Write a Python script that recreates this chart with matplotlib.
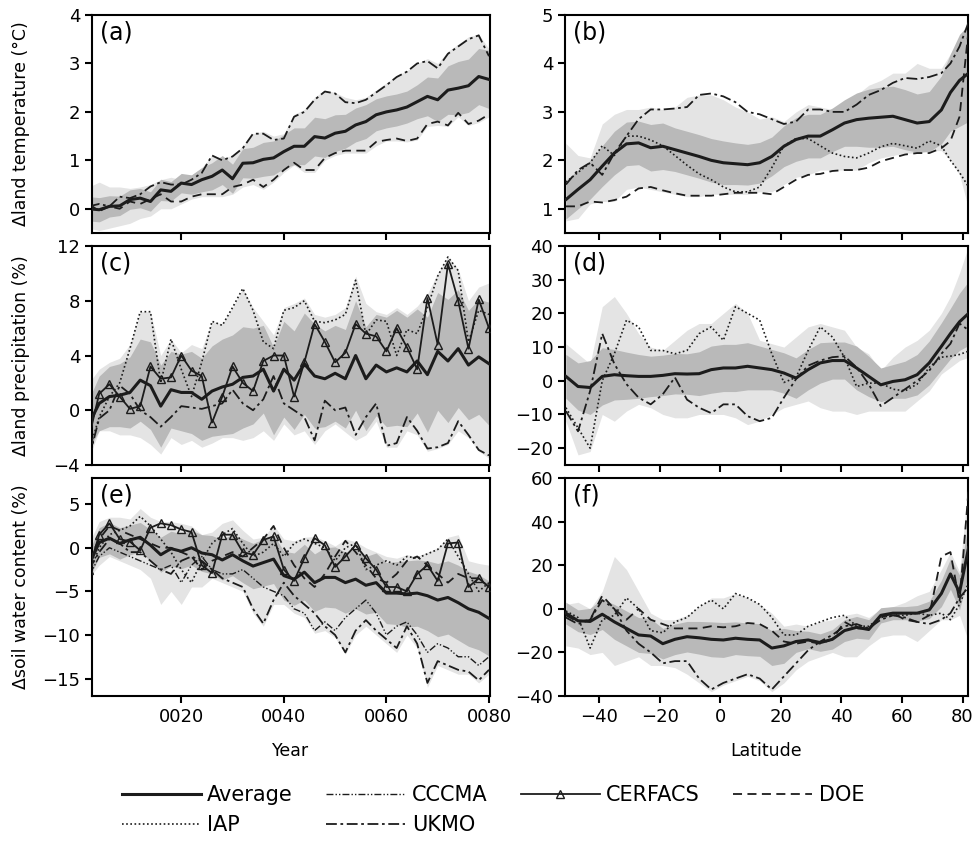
import numpy as np
import matplotlib
matplotlib.use('Agg')
import matplotlib.pyplot as plt
from matplotlib.lines import Line2D

# ---- data: time series (every 2nd model year) ----
yrs = np.arange(2, 81, 2)
year_ticks = [20, 40, 60, 80]
year_labels = ['0020', '0040', '0060', '0080']

a_avg = [0.0, -0.02, 0.05, 0.06, 0.19, 0.22, 0.15, 0.39, 0.36, 0.53,
         0.5, 0.6, 0.67, 0.8, 0.62, 0.94, 0.95, 1.02, 1.05, 1.18,
         1.29, 1.29, 1.49, 1.46, 1.56, 1.6, 1.73, 1.8, 1.94, 2.0,
         2.04, 2.1, 2.21, 2.32, 2.25, 2.45, 2.49, 2.54, 2.73, 2.67]
a_sd = [0.25, 0.25, 0.22, 0.2, 0.2, 0.2, 0.2, 0.22, 0.2, 0.2,
        0.2, 0.25, 0.28, 0.3, 0.3, 0.3, 0.32, 0.35, 0.35, 0.35,
        0.38, 0.38, 0.4, 0.4, 0.38, 0.35, 0.35, 0.35, 0.33, 0.33,
        0.33, 0.33, 0.35, 0.4, 0.45, 0.5, 0.55, 0.55, 0.58, 0.6]
a_lo = [-0.4, -0.45, -0.4, -0.35, -0.3, -0.2, -0.15, 0.0, 0.0, 0.1,
        0.2, 0.25, 0.25, 0.25, 0.3, 0.45, 0.5, 0.4, 0.55, 0.75,
        0.9, 0.75, 0.75, 1.0, 1.1, 1.15, 1.15, 1.15, 1.3, 1.4,
        1.4, 1.38, 1.42, 1.7, 1.72, 1.7, 1.9, 1.72, 1.78, 1.9]
a_hi = [0.45, 0.55, 0.45, 0.45, 0.42, 0.45, 0.5, 0.6, 0.65, 0.6,
        0.7, 0.85, 1.1, 1.05, 1.1, 1.3, 1.55, 1.6, 1.5, 1.55,
        1.95, 2.05, 2.3, 2.45, 2.4, 2.3, 2.25, 2.3, 2.45, 2.6,
        2.75, 2.85, 3.0, 3.1, 3.0, 3.25, 3.4, 3.55, 3.6, 3.3]
a_ukmo = [0.05, 0.1, 0.05, 0.25, 0.22, 0.3, 0.46, 0.55, 0.5, 0.5,
          0.6, 0.74, 1.1, 1.0, 1.08, 1.25, 1.55, 1.55, 1.42, 1.45,
          1.9, 2.0, 2.25, 2.42, 2.38, 2.2, 2.18, 2.25, 2.4, 2.55,
          2.72, 2.83, 3.0, 3.05, 2.9, 3.2, 3.35, 3.5, 3.58, 3.15]
a_doe = [0.1, -0.05, 0.05, 0.0, 0.15, 0.1, 0.2, 0.3, 0.15, 0.15,
         0.25, 0.3, 0.3, 0.3, 0.45, 0.5, 0.6, 0.45, 0.6, 0.8,
         0.95, 0.8, 0.8, 1.05, 1.15, 1.2, 1.2, 1.2, 1.38, 1.42,
         1.45, 1.4, 1.45, 1.75, 1.8, 1.72, 1.98, 1.75, 1.82, 1.95]

c_avg = [-1.0, 0.5, 1.0, 1.1, 1.3, 2.2, 1.8, 0.3, 1.5, 1.3,
         1.3, 0.8, 1.4, 1.7, 1.9, 2.4, 2.5, 3.0, 1.4, 3.0,
         2.2, 3.4, 2.5, 2.3, 2.7, 2.3, 4.0, 2.3, 3.3, 2.8,
         3.1, 2.8, 3.6, 2.6, 4.3, 3.6, 4.5, 3.3, 3.9, 3.4]
c_sd = [1.8, 2.0, 2.2, 2.3, 2.6, 3.0, 3.2, 3.0, 2.8, 2.8,
        3.0, 3.0, 3.3, 3.5, 3.6, 3.7, 3.5, 3.2, 3.2, 3.5,
        3.6, 3.7, 3.8, 3.5, 3.5, 3.6, 4.0, 3.8, 3.7, 4.0,
        4.2, 4.0, 3.8, 4.2, 4.3, 4.5, 4.3, 4.0, 4.2, 4.5]
c_lo = [-3.5, -1.5, -1.5, -1.8, -1.8, -2.0, -2.5, -3.2, -2.0, -2.5,
        -2.2, -2.7, -2.4, -2.0, -2.0, -2.2, -2.0, -1.5, -2.2, -1.0,
        -1.8, -1.5, -2.5, -1.5, -1.0, -1.6, -2.2, -1.8, -0.8, -2.7,
        -2.7, -1.5, -1.8, -3.0, -2.8, -2.5, -1.5, -2.0, -3.0, -3.5]
c_hi = [2.0, 3.0, 3.5, 3.8, 4.8, 7.2, 7.2, 4.0, 5.2, 4.2,
        4.8, 4.5, 6.5, 6.3, 7.5, 8.9, 7.5, 6.5, 5.5, 7.5,
        7.8, 8.2, 7.0, 6.8, 7.0, 7.5, 9.8, 7.8, 7.2, 7.0,
        7.5, 7.0, 7.6, 8.5, 10.0, 11.2, 10.3, 8.0, 9.0, 9.3]
c_cerfacs = [-2.0, 1.2, 1.9, 1.0, 0.1, 0.3, 3.2, 2.3, 2.4, 4.0,
             2.9, 2.5, -0.9, 1.0, 3.2, 2.0, 1.4, 3.6, 4.0, 4.0,
             1.0, 3.5, 6.3, 5.0, 3.5, 4.2, 6.3, 5.6, 5.4, 4.3,
             6.0, 4.6, 3.0, 8.2, 4.8, 10.7, 8.0, 4.5, 8.1, 6.0]
c_iap = [-3.0, -0.5, 1.0, 2.0, 4.5, 7.2, 7.2, 2.0, 5.2, 3.0,
         1.0, 3.5, 6.5, 6.2, 7.5, 8.9, 7.3, 5.0, 4.5, 7.3,
         7.5, 8.0, 6.5, 6.4, 6.6, 7.0, 9.5, 5.5, 6.6, 6.5,
         4.0, 5.9, 5.6, 7.5, 9.8, 11.2, 10.2, 5.0, 7.3, 7.0]
c_ukmo = [-3.5, -0.6, 0.0, 1.8, 1.2, 0.0, -0.5, -1.2, -0.5, 0.3,
          0.2, 0.1, 0.3, 0.5, 1.5, 0.5, 0.0, 0.8, 2.5, 0.5,
          0.0, -0.5, -2.2, 0.7, 0.0, 0.2, -1.8, -0.5, 0.5, -2.6,
          -2.4, -0.5, -1.5, -2.8, -2.7, -2.4, -0.8, -1.8, -2.9, -3.3]

e_avg = [-2.0, 0.6, 1.1, 0.5, 0.9, 1.2, 0.3, -0.8, -0.1, -0.4,
         0.0, -0.6, -0.8, -1.4, -0.8, -1.5, -2.1, -1.7, -1.3, -3.2,
         -3.6, -2.8, -4.0, -3.4, -3.4, -4.0, -3.6, -4.3, -4.0, -5.2,
         -5.2, -5.3, -5.2, -5.5, -6.0, -5.7, -6.3, -7.0, -7.4, -8.1]
e_sd = [1.5, 1.7, 1.8, 1.8, 1.7, 1.7, 1.8, 2.0, 2.0, 2.0,
        2.0, 2.1, 2.2, 2.3, 2.4, 2.5, 2.6, 2.7, 2.8, 2.8,
        3.0, 3.2, 3.3, 3.4, 3.5, 3.5, 3.4, 3.3, 3.4, 3.5,
        3.6, 3.8, 3.8, 4.0, 4.2, 4.2, 4.3, 4.3, 4.3, 4.3]
e_lo = [-3.5, -2.0, -1.0, -1.5, -2.0, -2.5, -3.5, -6.5, -5.0, -6.5,
        -4.5, -4.5, -3.5, -4.0, -4.5, -5.0, -7.5, -9.0, -6.5, -6.5,
        -7.5, -8.0, -9.8, -9.5, -10.3, -12.2, -10.0, -9.0, -10.0, -11.0,
        -12.0, -10.0, -11.5, -16.0, -13.5, -14.0, -14.5, -14.5, -15.5, -14.5]
e_hi = [0.5, 3.0, 3.5, 3.5, 3.3, 4.5, 3.5, 3.0, 3.0, 2.8,
        2.5, 1.5, 1.8, 2.8, 3.2, 2.0, 1.0, 1.2, 2.6, 1.0,
        0.8, 1.2, 1.3, 0.8, 0.2, 1.0, 0.7, 0.0, -0.5, -1.0,
        -1.2, -0.8, -1.0, -0.5, 0.0, 1.2, 1.5, -1.5, -1.8, -2.0]
e_cerfacs = [-2.5, 1.5, 2.8, 1.0, 0.7, -0.3, 2.3, 2.8, 2.6, 2.1,
             1.8, -2.0, -2.9, 1.5, 1.5, -0.5, -0.8, 0.9, 1.3, -2.5,
             -3.8, -1.2, 1.1, 0.3, -2.2, -1.0, 0.3, -1.2, -2.5, -4.5,
             -4.5, -5.0, -3.0, -2.0, -3.8, 0.5, 0.6, -4.5, -3.5, -4.5]
e_iap = [-3.0, 0.0, 1.5, 2.0, 2.5, 3.6, 2.5, 1.0, -0.5, -2.5,
         -4.0, -1.5, 0.5, 1.5, 2.2, 0.5, -1.0, -0.5, 0.5, -1.0,
         0.5, 1.0, 0.5, 0.0, -1.5, 0.0, 0.5, -2.5, -2.0, -1.5,
         -2.0, -1.0, -1.2, -0.7, -0.2, 1.0, -1.0, -3.0, -5.0, -4.0]
e_doe = [-1.5, 1.0, 2.5, 2.0, 1.5, 1.0, 0.5, 0.0, 0.0, -0.5,
         -1.0, -2.5, -1.5, -1.0, -0.5, -1.0, 0.0, 1.0, 2.5, 0.0,
         -2.0, -3.5, -4.5, -3.0, -1.0, 0.8, -0.5, -2.0, -3.5, -4.0,
         -3.0, -1.5, -1.0, -2.0, -3.0, -4.0, -3.0, -3.5, -3.5, -4.5]
e_ukmo = [-2.5, -0.5, 1.0, 0.5, -0.5, -0.5, -1.5, -2.5, -3.0, -1.5,
          -1.0, -1.5, -2.5, -3.5, -4.0, -4.5, -7.0, -8.7, -6.0, -4.0,
          -5.5, -6.5, -7.5, -9.0, -10.0, -12.0, -9.5, -8.3, -9.5, -10.5,
          -11.5, -9.0, -11.0, -15.5, -13.0, -13.5, -14.0, -14.2, -15.2, -14.0]
e_cccma = [-3.3, -1.0, 0.0, -0.5, -1.0, -1.5, -2.0, -2.5, -2.0, -4.0,
           -2.0, -1.0, -2.5, -3.0, -3.0, -2.5, -3.5, -4.5, -5.0, -5.5,
           -7.0, -7.5, -9.5, -8.5, -9.5, -8.0, -7.0, -6.0, -7.5, -10.0,
           -9.0, -8.5, -10.0, -12.0, -11.0, -11.5, -12.5, -12.5, -13.5, -12.5]

# ---- data: zonal means ----
lats = [-51, -47, -43, -39, -35, -31, -27, -23, -19, -15, -11, -7, -3, 1, 5, 9, 13,
        17, 21, 25, 29, 33, 37, 41, 45, 49, 53, 57, 61, 65, 69, 73, 76, 79, 82]
lat_ticks = [-40, -20, 0, 20, 40, 60, 80]

b_avg = [1.19, 1.4, 1.6, 1.88, 2.15, 2.34, 2.36, 2.26, 2.29, 2.22, 2.15, 2.08, 2.0, 1.95, 1.93, 1.91, 1.95,
         2.08, 2.29, 2.43, 2.5, 2.5, 2.63, 2.77, 2.84, 2.87, 2.89, 2.91, 2.84, 2.77, 2.8, 3.04, 3.4, 3.65, 3.8]
b_sd = [0.4, 0.4, 0.4, 0.42, 0.45, 0.45, 0.45, 0.48, 0.48, 0.45, 0.45, 0.45, 0.45, 0.45, 0.43, 0.42, 0.42,
        0.4, 0.42, 0.45, 0.45, 0.45, 0.45, 0.48, 0.55, 0.6, 0.62, 0.62, 0.62, 0.6, 0.62, 0.7, 0.8, 0.95, 1.0]
b_lo = [0.75, 0.8, 1.1, 1.15, 1.15, 1.4, 1.45, 1.4, 1.35, 1.3, 1.25, 1.25, 1.3, 1.3, 1.3, 1.3, 1.35,
        1.35, 1.5, 1.65, 1.7, 1.8, 1.8, 1.8, 1.8, 1.95, 2.05, 2.1, 2.15, 2.15, 2.2, 2.2, 2.0, 1.7, 1.0]
b_hi = [2.35, 2.1, 2.05, 2.75, 2.95, 3.05, 3.05, 3.1, 3.05, 3.1, 3.3, 3.35, 3.35, 3.25, 3.1, 3.0, 2.85,
        2.9, 2.8, 3.0, 3.15, 3.1, 3.05, 3.1, 3.35, 3.55, 3.65, 3.8, 3.8, 4.0, 3.9, 3.9, 4.2, 4.5, 4.9]
b_ukmo = [1.5, 1.8, 1.95, 1.7, 2.15, 2.5, 2.85, 3.05, 3.05, 3.07, 3.1, 3.35, 3.38, 3.32, 3.2, 3.0, 2.95,
          2.85, 2.75, 2.8, 3.05, 3.05, 3.0, 3.0, 3.15, 3.35, 3.45, 3.6, 3.7, 3.68, 3.72, 3.8, 4.0, 4.35, 4.85]
b_doe = [1.05, 1.05, 1.15, 1.13, 1.18, 1.25, 1.42, 1.45, 1.38, 1.32, 1.27, 1.27, 1.27, 1.3, 1.33, 1.33, 1.33,
         1.3, 1.45, 1.6, 1.7, 1.72, 1.78, 1.8, 1.8, 1.85, 1.98, 2.05, 2.12, 2.15, 2.15, 2.25, 2.4, 2.9, 4.7]
b_iap = [1.55, 1.75, 1.95, 2.3, 2.1, 2.5, 2.5, 2.42, 2.3, 2.1, 1.9, 1.72, 1.6, 1.45, 1.35, 1.35, 1.45,
         1.85, 2.3, 2.45, 2.45, 2.3, 2.15, 2.08, 2.05, 2.15, 2.28, 2.35, 2.3, 2.25, 2.4, 2.3, 2.0, 1.75, 1.45]

d_avg = [1.3, -1.7, -2.0, 1.3, 1.8, 1.5, 1.3, 1.3, 1.6, 2.1, 2.0, 2.1, 3.3, 3.8, 3.8, 4.3, 3.8,
         3.3, 2.3, 0.8, 3.3, 5.3, 6.0, 6.0, 3.8, 1.3, -1.2, -0.2, 0.3, 1.8, 5.3, 10.2, 14.0, 17.5, 20.0]
d_sd = [6.5, 7, 8, 8.5, 7.5, 7, 6.5, 6, 6, 6, 6, 6.5, 7, 7, 7, 7, 6.5,
        6, 6, 6, 6, 6, 5.5, 5.5, 6.5, 6, 5, 5, 5.5, 6, 6.5, 7, 7.5, 8.5, 9.5]
d_lo = [-12, -22, -21, -10, -12, -9, -7, -8, -10, -11, -11, -10, -10, -10, -11, -13, -12,
        -10, -8, -7, -6, -8, -9, -9, -10, -9, -9, -9, -9, -6, -3, 2, 4, 6, 7]
d_hi = [11, 8, 5, 22, 25, 20, 14, 10, 9, 12, 15, 17, 17, 20, 23, 20, 12,
        11, 10, 13, 16, 17, 16, 15, 10, 8, 3, 7, 10, 12, 15, 20, 25, 32, 40]
d_iap = [-8, -14, -20, 0, 8, 18, 16, 9, 9, 8, 9, 14, 16, 12, 22, 20, 18,
         8, -0.5, 1, 9, 16, 13, 7, -1.7, -0.7, -0.7, -2.5, -3, -1, 4, 7, 7.3, 7.8, 8.8]
d_ukmo = [-9, -15, -3, 14, 5, -1, -5, -7, -4, 1, -5.6, -8, -9.6, -7, -7, -10.5, -12,
          -11, -5, 0.5, 4.5, 6, 7, 7.3, 4, -1, -7.5, -5, -2.5, 0, 3, 8, 11, 17, 15]

f_avg = [-2, -5.5, -5.8, -2.5, -6, -9, -12, -12.5, -16, -14, -12.8, -13.3, -14, -14.3, -13.5, -14, -14.3,
         -18, -17, -15, -14.3, -15.5, -14, -10, -8.5, -9.5, -3, -2, -2, -2, -0.5, 7, 16, 7.5, 28]
f_sd = [5, 5, 6, 7, 8, 8, 8, 8, 7, 7, 7, 7.5, 8, 8, 7.5, 7.5, 7.5,
        8, 8, 5, 4, 4, 4.5, 5, 5, 4.5, 3.5, 3, 3, 3.5, 4, 6, 7, 8, 12]
f_lo = [-17, -18, -21, -20, -26, -24, -22, -26, -26, -27, -30, -34, -38, -35, -33, -31, -33,
        -38, -34, -28, -24, -22, -20, -22, -22, -17, -13, -12, -12, -15, -10, -5, -5, -3, -15]
f_hi = [2, 3, 0, 8, 24, 18, 8, -2, -5, -5, -3, 1, 5, 5, 7, 5, 2,
        -2, -8, -7, -8, -6, -5, -3, -2, -4, 0, 1, 3, 6, 8, 18, 26, 17, 58]
f_doe = [-3, -6, -5, 6, 0, -5, 0, -5, -7, -9, -9, -9, -8, -8.5, -8, -6.5, -7,
         -10, -15, -16, -15, -16, -14, -6, -9, -9, -4, -2, -5, -6, -3, 24, 26, 3, 55]
f_iap = [-1, -4, -18, -5, -3, 5, 0, -10, -11, -6, -4, 1, 4, 0, 7, 5, 2,
         -4, -12, -12, -8, -6, -4, -3, -8, -8, -4, -3, -3, -2, -3, -2, -5, 2, 12]
f_ukmo = [-4, -7, -5, 4, 0, -10, -16, -20, -25, -24, -24, -32, -37, -34, -32, -30, -32,
          -37, -31, -25, -19, -15, -12, -8, -7, -9, -5, -3, -4, -6, -7, -5, -2, 5, 10]

LIGHT = '#e4e4e4'
DARK = '#b9b9b9'
INK = '#1c1c1c'

styles = {
    'Average': dict(color=INK, lw=2.2, ls='-'),
    'CCCMA': dict(color=INK, lw=1.0, ls=(0, (5, 1.5, 1, 1.5, 1, 1.5))),
    'CERFACS': dict(color=INK, lw=1.3, ls='-', marker='^', mfc='none', ms=6, mew=1.0),
    'DOE': dict(color=INK, lw=1.3, ls=(0, (5, 3))),
    'IAP': dict(color=INK, lw=1.2, ls=(0, (1, 1.5))),
    'UKMO': dict(color=INK, lw=1.3, ls=(0, (6, 2, 1.5, 2))),
}


def panel(ax, x, avg, sd, lo, hi, models, tag):
    avg = np.array(avg)
    sd = np.array(sd)
    ax.fill_between(x, lo, hi, color=LIGHT, lw=0, zorder=1)
    ax.fill_between(x, avg - sd, avg + sd, color=DARK, lw=0, zorder=2)
    for name, vals in models:
        ax.plot(x, vals, zorder=3, **styles[name])
    ax.plot(x, avg, zorder=4, **styles['Average'])
    ax.text(0.02, 0.975, tag, transform=ax.transAxes, ha='left', va='top', fontsize=17)
    for s in ax.spines.values():
        s.set_linewidth(1.5)
    ax.tick_params(direction='out', length=5, width=1.5, labelsize=13)


fig = plt.figure(figsize=(9.76, 8.44), dpi=100)
lx, lw_ = 92 / 976, 398 / 976
rx, rw = 565 / 976, 403 / 976
rows = [(1 - 233 / 844, 218 / 844), (1 - 465 / 844, 219 / 844), (1 - 696 / 844, 218 / 844)]

ax_a = fig.add_axes([lx, rows[0][0], lw_, rows[0][1]])
ax_b = fig.add_axes([rx, rows[0][0], rw, rows[0][1]])
ax_c = fig.add_axes([lx, rows[1][0], lw_, rows[1][1]])
ax_d = fig.add_axes([rx, rows[1][0], rw, rows[1][1]])
ax_e = fig.add_axes([lx, rows[2][0], lw_, rows[2][1]])
ax_f = fig.add_axes([rx, rows[2][0], rw, rows[2][1]])

panel(ax_a, yrs, a_avg, a_sd, a_lo, a_hi, [('DOE', a_doe), ('UKMO', a_ukmo)], '(a)')
panel(ax_c, yrs, c_avg, c_sd, c_lo, c_hi,
      [('UKMO', c_ukmo), ('IAP', c_iap), ('CERFACS', c_cerfacs)], '(c)')
panel(ax_e, yrs, e_avg, e_sd, e_lo, e_hi,
      [('CCCMA', e_cccma), ('UKMO', e_ukmo), ('DOE', e_doe), ('IAP', e_iap), ('CERFACS', e_cerfacs)], '(e)')
panel(ax_b, lats, b_avg, b_sd, b_lo, b_hi, [('DOE', b_doe), ('IAP', b_iap), ('UKMO', b_ukmo)], '(b)')
panel(ax_d, lats, d_avg, d_sd, d_lo, d_hi, [('IAP', d_iap), ('UKMO', d_ukmo)], '(d)')
panel(ax_f, lats, f_avg, f_sd, f_lo, f_hi, [('DOE', f_doe), ('IAP', f_iap), ('UKMO', f_ukmo)], '(f)')

for ax in (ax_a, ax_c, ax_e):
    ax.set_xlim(2.6, 80.2)
    ax.set_xticks(year_ticks)
    ax.set_xticklabels(year_labels)
for ax in (ax_b, ax_d, ax_f):
    ax.set_xlim(-51.3, 81.8)
    ax.set_xticks(lat_ticks)
for ax in (ax_a, ax_b, ax_c, ax_d):
    ax.tick_params(labelbottom=False)

ax_a.set_ylim(-0.5, 4)
ax_a.set_yticks([0, 1, 2, 3, 4])
ax_b.set_ylim(0.5, 5)
ax_b.set_yticks([1, 2, 3, 4, 5])
ax_c.set_ylim(-4, 12)
ax_c.set_yticks([-4, 0, 4, 8, 12])
ax_d.set_ylim(-25, 40)
ax_d.set_yticks([-20, -10, 0, 10, 20, 30, 40])
ax_e.set_ylim(-17, 8)
ax_e.set_yticks([-15, -10, -5, 0, 5])
ax_f.set_ylim(-40, 60)
ax_f.set_yticks([-40, -20, 0, 20, 40, 60])

ax_a.set_ylabel('\u0394land temperature (\u00b0C)', fontsize=12.5)
ax_c.set_ylabel('\u0394land precipitation (%)', fontsize=12.5)
ax_e.set_ylabel('\u0394soil water content (%)', fontsize=12.5)
for ax in (ax_a, ax_c, ax_e):
    ax.yaxis.set_label_coords(-0.155, 0.5)
ax_e.set_xlabel('Year', fontsize=12.5, labelpad=12)
ax_f.set_xlabel('Latitude', fontsize=12.5, labelpad=12)

names = ['Average', 'IAP', 'CCCMA', 'UKMO', 'CERFACS', 'DOE']
handles = [Line2D([], [], **styles[n]) for n in names]
fig.legend(handles, names, loc='center', bbox_to_anchor=(0.505, 0.04), ncol=4,
           frameon=False, fontsize=15, handlelength=3.8, handletextpad=0.3,
           columnspacing=1.6, labelspacing=0.5)

fig.savefig('out.png', dpi=100)
